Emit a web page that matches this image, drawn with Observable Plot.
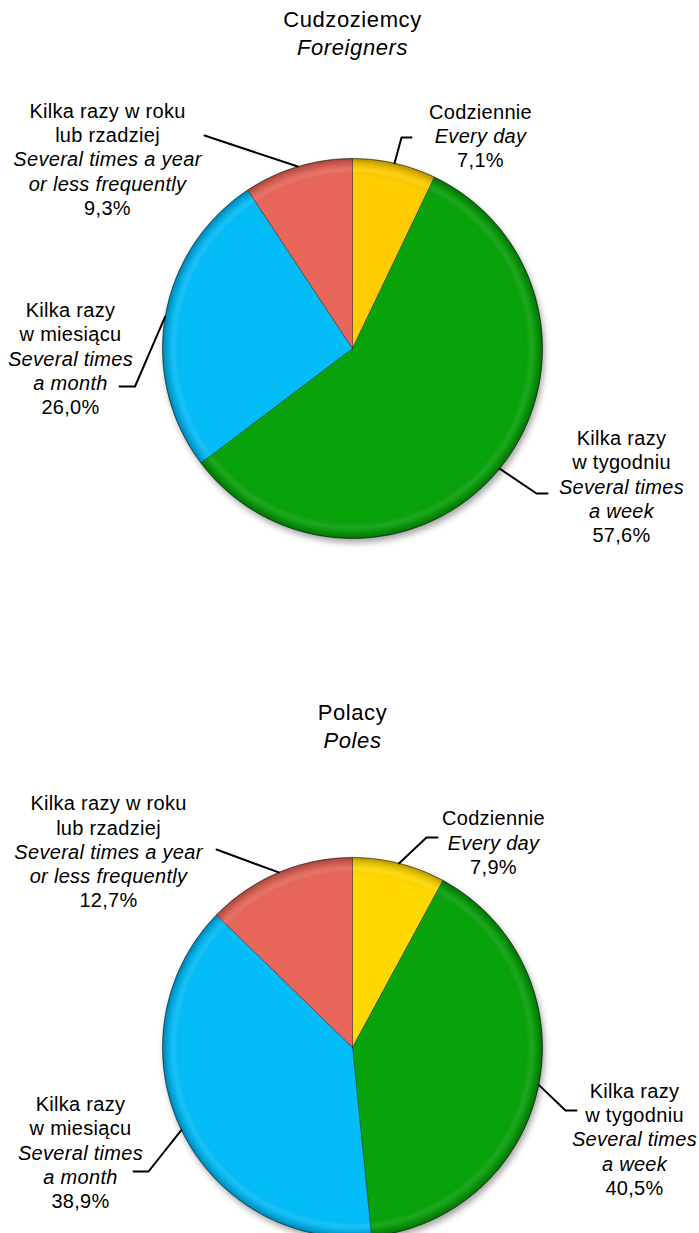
<!DOCTYPE html>
<html><head><meta charset="utf-8">
<script src="https://cdn.jsdelivr.net/npm/d3@7"></script>
<script src="https://cdn.jsdelivr.net/npm/@observablehq/plot@0.6"></script>
<style>
body{margin:0;background:#fff;}
#chart svg{display:block;}
#chart g[aria-label="line"].wedges{filter:drop-shadow(2px 4px 3px rgba(0,0,0,0.35));}
#chart text{letter-spacing:0.3px;}
#chart .title text{letter-spacing:0.6px;}
</style></head><body><div id="chart"></div>
<script>
// ---- data ----
const categories = ["Codziennie", "Kilka razy w tygodniu", "Kilka razy w miesiącu", "Kilka razy w roku lub rzadziej"];
const foreignersValues = [7.1, 57.6, 26.0, 9.3];
const polesValues = [7.9, 40.5, 38.9, 12.7];
const foreignersPctLabels = ["7,1%", "57,6%", "26,0%", "9,3%"];
const polesPctLabels = ["7,9%", "40,5%", "38,9%", "12,7%"];
const labelLinesPl = [["Codziennie"], ["Kilka razy", "w tygodniu"], ["Kilka razy", "w miesiącu"], ["Kilka razy w roku", "lub rzadziej"]];
const labelLinesEn = [["Every day"], ["Several times", "a week"], ["Several times", "a month"], ["Several times a year", "or less frequently"]];
const titlesPl = ["Cudzoziemcy", "Polacy"];
const titlesEn = ["Foreigners", "Poles"];

// ---- layout / style ----
const W = 699, H = 1233, R = 190, LH = 24.3;
const pies = [
  {values: foreignersValues, pct: foreignersPctLabels, cx: 352, cy: 348, titleY: [19.5, 47.5],
   colors: ["#FFCC00", "#08A20A", "#03BDF9", "#E8665A"],
   labels: [
     {x: 480, y: 111.7, elbow: [401, 137], end: [411, 137]},
     {x: 621, y: 438, elbow: [536, 493], end: [547, 493]},
     {x: 70, y: 310, elbow: [134.5, 386], end: [119, 386]},
     {x: 107, y: 110.7, elbow: [204, 135], end: [204, 135]}
   ]},
  {values: polesValues, pct: polesPctLabels, cx: 352, cy: 1047, titleY: [712.5, 740],
   colors: ["#FFD800", "#08A20A", "#03BDF9", "#E8665A"],
   labels: [
     {x: 493, y: 818.3, elbow: [426, 837], end: [437, 837]},
     {x: 634, y: 1090.7, elbow: [565, 1110], end: [576, 1110]},
     {x: 80, y: 1104, elbow: [148, 1171], end: [133, 1171]},
     {x: 108, y: 803.3, elbow: [216, 849], end: [216, 849]}
   ]}
];

const wedgePts = [], leaderPts = [], textRows = [], titleRows = [], centers = [];
pies.forEach((p, pi) => {
  const arcs = d3.pie().sort(null).startAngle(0).endAngle(2 * Math.PI)(p.values);
  centers.push({x: p.cx, y: p.cy});
  arcs.forEach((a, i) => {
    const key = pi + "-" + i;
    wedgePts.push({key, x: p.cx, y: p.cy, color: p.colors[i]});
    const n = Math.max(2, Math.ceil((a.endAngle - a.startAngle) / 0.01));
    for (let k = 0; k <= n; k++) {
      const ang = a.startAngle + (a.endAngle - a.startAngle) * k / n;
      wedgePts.push({key, x: p.cx + R * Math.sin(ang), y: p.cy - R * Math.cos(ang), color: p.colors[i]});
    }
    wedgePts.push({key, x: p.cx, y: p.cy, color: p.colors[i]});
    // leader line from slice mid-angle on the rim
    const mid = (a.startAngle + a.endAngle) / 2;
    const L = p.labels[i];
    leaderPts.push({key, x: p.cx + R * Math.sin(mid), y: p.cy - R * Math.cos(mid)});
    leaderPts.push({key, x: L.elbow[0], y: L.elbow[1]});
    leaderPts.push({key, x: L.end[0], y: L.end[1]});
    // label text
    const lines = [
      ...labelLinesPl[i].map(t => ({t, it: false})),
      ...labelLinesEn[i].map(t => ({t, it: true})),
      {t: p.pct[i], it: false}
    ];
    lines.forEach((ln, j) => textRows.push({x: L.x, y: L.y + j * LH, text: ln.t, italic: ln.it}));
  });
  titleRows.push({x: 352, y: p.titleY[0], text: titlesPl[pi], italic: false});
  titleRows.push({x: 352, y: p.titleY[1], text: titlesEn[pi], italic: true});
});

const font = "'Liberation Sans', Arial, sans-serif";
const plot = Plot.plot({
  width: W, height: H, margin: 0,
  x: {domain: [0, W], range: [0, W], axis: null},
  y: {domain: [0, H], range: [0, H], axis: null},
  style: {fontFamily: font, background: "#fff"},
  marks: [
    Plot.line(wedgePts, {x: "x", y: "y", z: "key", fill: "color", stroke: "rgba(0,0,0,0.4)", strokeWidth: 0.8, curve: "linear", className: "wedges"}),
    Plot.dot(centers, {x: "x", y: "y", r: R, fill: "url(#pieShade)", stroke: "rgba(0,0,0,0.3)", strokeWidth: 1}),
    Plot.line(leaderPts, {x: "x", y: "y", z: "key", stroke: "#000", strokeWidth: 2}),
    Plot.text(textRows.filter(d => !d.italic), {x: "x", y: "y", text: "text", fontSize: 20, fill: "#000", textAnchor: "middle"}),
    Plot.text(textRows.filter(d => d.italic), {x: "x", y: "y", text: "text", fontSize: 20, fontStyle: "italic", fill: "#000", textAnchor: "middle"}),
    Plot.text(titleRows.filter(d => !d.italic), {x: "x", y: "y", text: "text", fontSize: 22, fill: "#000", className: "title"}),
    Plot.text(titleRows.filter(d => d.italic), {x: "x", y: "y", text: "text", fontSize: 22, fontStyle: "italic", fill: "#000", className: "title"})
  ]
});
// radial gradient for rim (bevel) shading
const defs = d3.select(plot).insert("defs", ":first-child");
const g = defs.append("radialGradient").attr("id", "pieShade");
g.append("stop").attr("offset", "0%").attr("stop-color", "#000").attr("stop-opacity", 0);
g.append("stop").attr("offset", "90%").attr("stop-color", "#000").attr("stop-opacity", 0);
g.append("stop").attr("offset", "94%").attr("stop-color", "#fff").attr("stop-opacity", 0.08);
g.append("stop").attr("offset", "97.5%").attr("stop-color", "#000").attr("stop-opacity", 0.12);
g.append("stop").attr("offset", "100%").attr("stop-color", "#000").attr("stop-opacity", 0.3);
document.getElementById("chart").append(plot);
</script>
</body></html>
